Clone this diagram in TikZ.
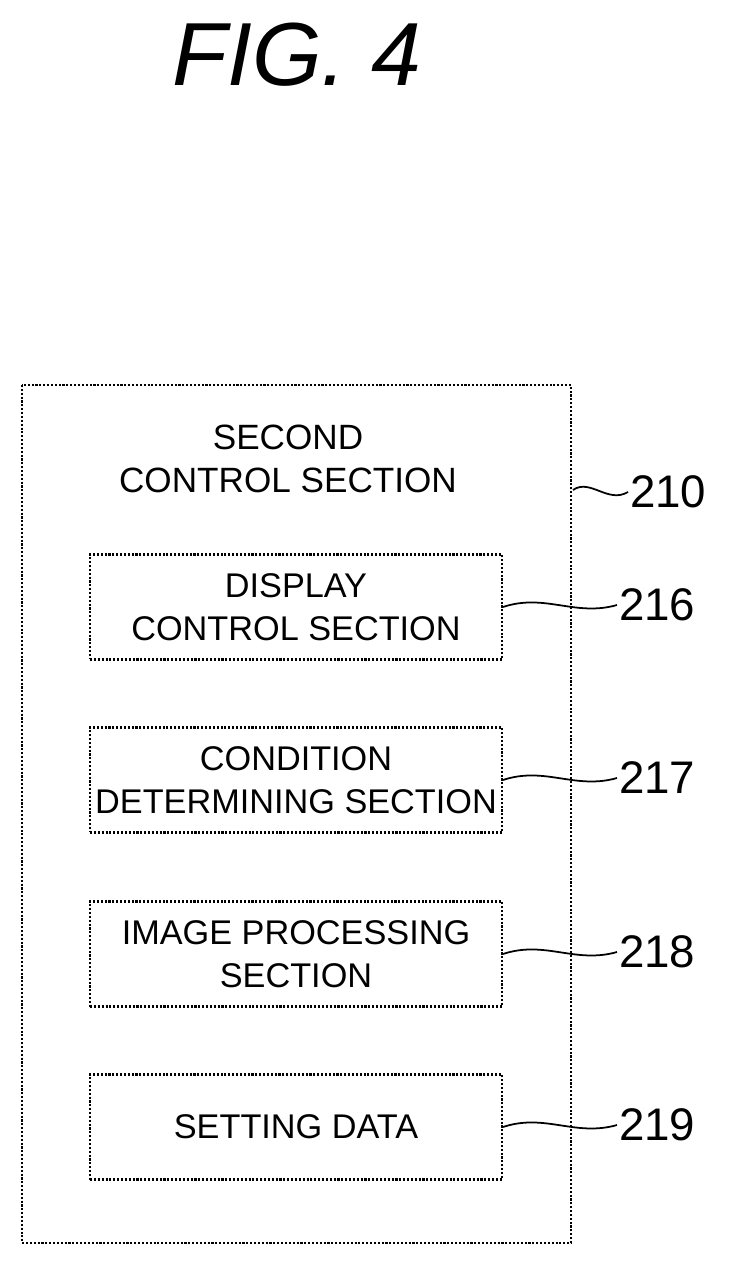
\documentclass[tikz,border=0pt]{standalone}
\usepackage{fontspec}
\setmainfont{Liberation Sans}
\usetikzlibrary{positioning}

\tikzset{
  blk/.style={draw, line width=1.2pt, densely dotted, minimum width=8.24cm, minimum height=2.1cm, inner xsep=1pt, align=center, font=\fontsize{19.5}{24.5}\selectfont},
  num/.style={font=\fontsize{26}{30}\selectfont, anchor=west, inner sep=1pt},
  lead/.style={line width=1pt}
}

\begin{document}
\begin{tikzpicture}[x=0.02cm,y=-0.02cm]
\useasboundingbox (0,0) rectangle (731,1266);
\node[font=\itshape\fontsize{51}{56}\selectfont] (fig) at (297,55) {FIG. 4};

\draw[line width=1.2pt, densely dotted] (22,385) rectangle (571,1243);
\coordinate (outer) at (573,490);
\node[align=center, font=\fontsize{20}{24.5}\selectfont] (title) at (288,459) {SECOND\\CONTROL SECTION};
\node[num] (n210) at (628,492) {210};
\draw[lead] (outer) .. controls (590,478) and (608,504) .. (n210.west);

\node[blk] (b216) at (296,607) {DISPLAY\\CONTROL SECTION};
\node[blk] (b217) at (296,780) {CONDITION\\DETERMINING SECTION};
\node[blk] (b218) at (296,954) {IMAGE PROCESSING\\SECTION};
\node[blk] (b219) at (296,1127) {SETTING DATA};

\foreach \b/\n in {216/605, 217/778, 218/952, 219/1125}{
  \node[num] (n\b) at (617,\n) {\b};
  \draw[lead] (b\b.east) .. controls (545,\n-12) and (575,\n+12) .. (n\b.west);
}
\end{tikzpicture}
\end{document}
